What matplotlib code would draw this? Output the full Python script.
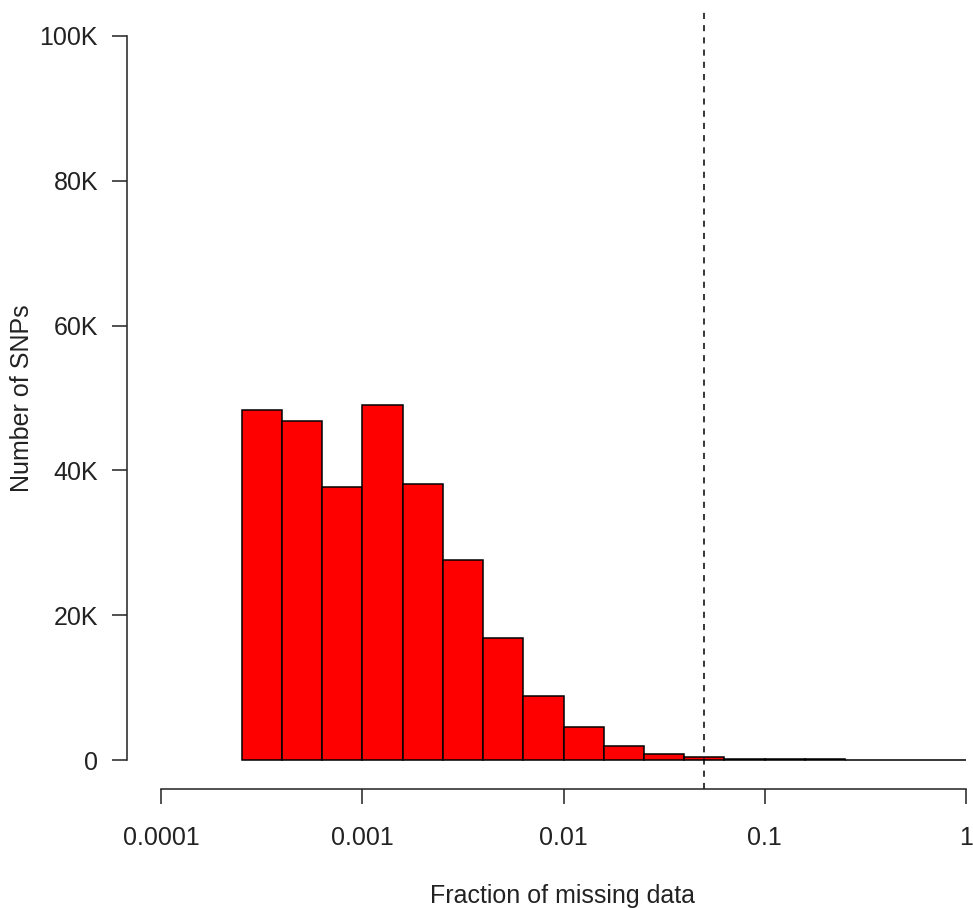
import numpy as np
import matplotlib.pyplot as plt

plt.rcParams['font.family'] = ['Liberation Sans', 'DejaVu Sans']
plt.rcParams['font.size'] = 18

# histogram of per-SNP missingness, bins are 0.2 wide on log10 scale
bin_edges_log10 = [-3.6, -3.4, -3.2, -3.0, -2.8, -2.6, -2.4, -2.2, -2.0, -1.8,
                   -1.6, -1.4, -1.2, -1.0, -0.8, -0.6, -0.4, -0.2, 0.0]
snp_counts = [48400, 46800, 37700, 49100, 38100, 27600, 16850, 8850, 4560, 2000,
              830, 410, 190, 150, 130, 0, 0, 0]
missing_cutoff = 0.05

x_ticks = [0.0001, 0.001, 0.01, 0.1, 1]
x_tick_labels = ["0.0001", "0.001", "0.01", "0.1", "1"]
y_ticks = [0, 20000, 40000, 60000, 80000, 100000]
y_tick_labels = ["0", "20K", "40K", "60K", "80K", "100K"]

W, H = 973, 908
fig = plt.figure(figsize=(W / 100, H / 100), dpi=100)

# plot region in pixels (extends a little past the right edge)
px_left, px_right, px_top, px_bottom = 127, 1000, 7, 789
ax = fig.add_axes([px_left / W, (H - px_bottom) / H,
                   (px_right - px_left) / W, (px_bottom - px_top) / H])

edges = 10 ** np.array(bin_edges_log10)
ax.bar(edges[:-1], snp_counts, width=np.diff(edges), align='edge',
       color='#ff0000', edgecolor='black', linewidth=1.1)
ax.axvline(missing_cutoff, color='black', linewidth=1.1, linestyle=(0, (4, 4)))

ax.set_xscale('log')
ax.set_xlim(10 ** -4.169, 10 ** 0.169)
ax.set_ylim(-4000, 104000)

ax.set_xticks(x_ticks)
ax.set_xticklabels(x_tick_labels)
ax.set_yticks(y_ticks)
ax.set_yticklabels(y_tick_labels)
ax.minorticks_off()

for side in ['top', 'right']:
    ax.spines[side].set_visible(False)
ax.spines['left'].set_bounds(0, 100000)
ax.spines['bottom'].set_bounds(1e-4, 1)
for side in ['left', 'bottom']:
    ax.spines[side].set_linewidth(1.1)
    ax.spines[side].set_color('#222222')

ax.tick_params(axis='both', direction='out', length=10.8, width=1.1,
               color='#222222', labelcolor='#222222')
ax.tick_params(axis='y', pad=10)
ax.tick_params(axis='x', pad=16)

fig.text(22 / W, (H - 398) / H, "Number of SNPs", rotation=90,
         ha='center', va='center', color='#222222')
fig.text(563 / W, (H - 896) / H, "Fraction of missing data",
         ha='center', va='center', color='#222222')

fig.savefig("out.png", dpi=100)
